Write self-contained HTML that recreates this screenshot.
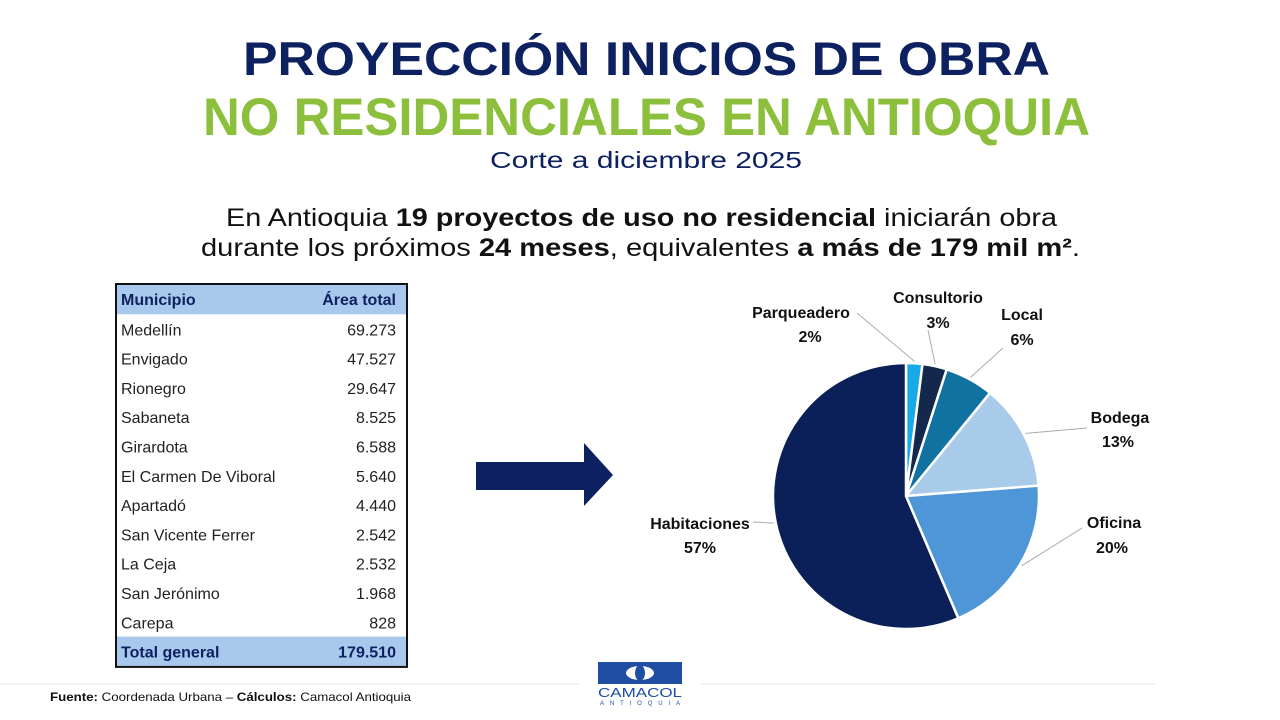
<!DOCTYPE html>
<html><head><meta charset="utf-8"><style>
body{margin:0;width:1280px;height:720px;background:#fff;overflow:hidden}
svg{display:block;font-family:"Liberation Sans",sans-serif}
</style></head><body>
<svg width="1280" height="720" viewBox="0 0 1280 720">
<text x="243" y="75" textLength="807" lengthAdjust="spacingAndGlyphs" font-size="47" font-weight="bold" fill="#0d2161">PROYECCIÓN INICIOS DE OBRA</text>
<text x="203" y="135" textLength="887" lengthAdjust="spacingAndGlyphs" font-size="53" font-weight="bold" fill="#8cc03c">NO RESIDENCIALES EN ANTIOQUIA</text>
<text x="490" y="168" textLength="312" lengthAdjust="spacingAndGlyphs" font-size="23" fill="#0d2161">Corte a diciembre 2025</text>
<text x="226" y="226" textLength="831" lengthAdjust="spacingAndGlyphs" font-size="25" fill="#111">En Antioquia <tspan font-weight="bold">19 proyectos de uso no residencial</tspan> iniciarán obra</text>
<text x="201" y="256" textLength="879" lengthAdjust="spacingAndGlyphs" font-size="25" fill="#111">durante los próximos <tspan font-weight="bold">24 meses</tspan>, equivalentes <tspan font-weight="bold">a más de 179 mil m²</tspan>.</text>

<g id="table"></g>

<path d="M476 462 H584 V443 L613 475 L584 506 V490 H476 Z" fill="#0d2161"/>

<g id="pie"></g>

<line x1="0" y1="684" x2="580" y2="684" stroke="#eef0e8" stroke-width="1.5"/>
<line x1="700" y1="684" x2="1155" y2="684" stroke="#eef0e8" stroke-width="1.5"/>
<text x="50" y="701" textLength="361" lengthAdjust="spacingAndGlyphs" font-size="12" fill="#111"><tspan font-weight="bold">Fuente:</tspan> Coordenada Urbana – <tspan font-weight="bold">Cálculos:</tspan> Camacol Antioquia</text>
<g>
<rect x="598" y="662" width="84" height="22" fill="#1f4ea3"/>
<ellipse cx="640" cy="673" rx="14" ry="7" fill="#fff"/>
<ellipse cx="640" cy="673" rx="5" ry="8" fill="#1f4ea3"/>
<text x="598" y="697" textLength="84" lengthAdjust="spacingAndGlyphs" font-size="13" fill="#1f4ea3">CAMACOL</text>
<text x="600" y="705" textLength="80" lengthAdjust="spacing" font-size="6" fill="#1f4ea3">ANTIOQUIA</text>
</g>
</svg>
<script>
const NS="http://www.w3.org/2000/svg";
function mk(tag,attrs,parent,txt){const e=document.createElementNS(NS,tag);for(const k in attrs)e.setAttribute(k,attrs[k]);if(txt!=null)e.textContent=txt;parent.appendChild(e);return e;}

const municipios=["Medellín","Envigado","Rionegro","Sabaneta","Girardota","El Carmen De Viboral","Apartadó","San Vicente Ferrer","La Ceja","San Jerónimo","Carepa"];
const areas=["69.273","47.527","29.647","8.525","6.588","5.640","4.440","2.542","2.532","1.968","828"];
const totalLabel="179.510";

const tg=document.getElementById('table');
const tx=116,ty=285,tw=291,rh=29.3;
let r=mk('rect',{x:tx,y:ty,width:tw,height:rh,fill:'#a9c9ec'},tg);


mk('text',{x:tx+5,y:ty+20,'font-size':16,'font-weight':'bold',fill:'#0d2161'},tg,'Municipio');
mk('text',{x:tx+tw-11,y:ty+20,'font-size':16,'font-weight':'bold',fill:'#0d2161','text-anchor':'end'},tg,'Área total');
municipios.forEach((m,i)=>{
  const y=ty+rh*(i+1);
  const a=mk('text',{x:tx+5,y:y+21,'font-size':16,fill:'#222'},tg,m);
  
  
  const b=mk('text',{x:tx+tw-11,y:y+21,'font-size':16,fill:'#222','text-anchor':'end'},tg,areas[i]);
  
  
});
const fy=ty+rh*12;
r=mk('rect',{x:tx,y:fy,width:tw,height:rh,fill:'#a9c9ec'},tg);


mk('text',{x:tx+5,y:fy+21,'font-size':16,'font-weight':'bold',fill:'#0d2161'},tg,'Total general');
mk('text',{x:tx+tw-11,y:fy+21,'font-size':16,'font-weight':'bold',fill:'#0d2161','text-anchor':'end'},tg,totalLabel);
r=mk('rect',{x:tx,y:ty-1,width:tw,height:rh*13+2,fill:'none',stroke:'#111','stroke-width':2},tg);



const categories=["Parqueadero","Consultorio","Local","Bodega","Oficina","Habitaciones"];
const shares=[2,3,6,13,20,57];
const colors=["#1aa8e6","#13284a","#0f72a0","#a9cbea","#4f96d8","#0b2059"];
const labelPos=[[801,318,810,342],[938,303,938,328],[1022,320,1022,345],[1120,423,1118,447],[1114,528,1112,553],[700,529,700,553]];
const leaderEnd=[[857,313],[928,330],[1003,348],[1087,428],[1082,528],[753,522]];

const pg=document.getElementById('pie');
const cx=906,cy=496,R=133;
const tot=shares.reduce((a,b)=>a+b,0);
let ang=0;
shares.forEach((v,i)=>{
  const a0=ang/tot*2*Math.PI, a1=(ang+v)/tot*2*Math.PI; ang+=v;
  const p=t=>[cx+R*Math.sin(t),cy-R*Math.cos(t)];
  const [x0,y0]=p(a0),[x1,y1]=p(a1);
  const s=mk('path',{d:`M${cx},${cy}L${x0},${y0}A${R},${R} 0 ${a1-a0>Math.PI?1:0} 1 ${x1},${y1}Z`,fill:colors[i],stroke:'#fff','stroke-width':2.5},pg);
  
  
  const am=(a0+a1)/2;const [ex,ey]=[cx+(R+2)*Math.sin(am),cy-(R+2)*Math.cos(am)];
  const l=mk('polyline',{points:`${ex},${ey} ${leaderEnd[i][0]},${leaderEnd[i][1]}`,stroke:'#aaa','stroke-width':1,fill:'none'},pg);
  
  
  const lp=labelPos[i];
  const t1=mk('text',{x:lp[0],y:lp[1],'font-size':16,'font-weight':'bold',fill:'#111','text-anchor':'middle'},pg,categories[i]);
  
  
  const t2=mk('text',{x:lp[2],y:lp[3],'font-size':16,'font-weight':'bold',fill:'#111','text-anchor':'middle'},pg,v+'%');
  
  
});
</script>
</body></html>
